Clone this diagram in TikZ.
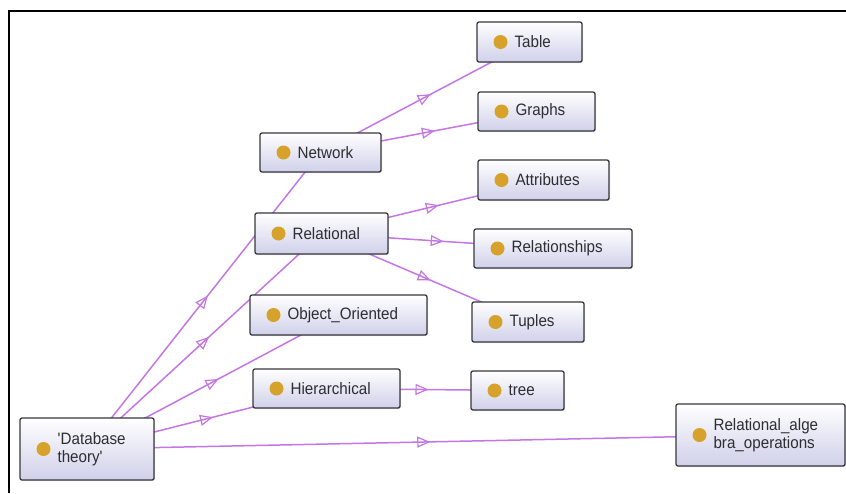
\documentclass[tikz,border=0pt]{standalone}
\usepackage{fontspec}
\setmainfont{Liberation Sans}[FakeStretch=0.92]
\usetikzlibrary{arrows.meta,decorations.markings,backgrounds,shadows}

\definecolor{edgecol}{RGB}{196,118,228}
\definecolor{boxline}{RGB}{55,55,60}
\definecolor{boxfill}{RGB}{208,208,234}
\definecolor{dotcol}{RGB}{214,162,44}
\definecolor{txtcol}{RGB}{45,45,50}

\begin{document}
\begin{tikzpicture}[x=1pt, y=-1pt,
    cls/.style={draw=boxline, line width=1.3pt, rounded corners=2pt,
        top color=white, bottom color=boxfill, minimum height=40pt,
        drop shadow={shadow xshift=1pt, shadow yshift=-1pt, opacity=0.25},
        path picture={\fill[dotcol] ([xshift=23.5pt]path picture bounding box.west) circle (7pt);}},
    txt/.style={label={[anchor=west, xshift=38pt, inner sep=0pt, align=left,
        font=\fontsize{16.5}{18}\selectfont, text=txtcol]west:#1}},
    link/.style={draw=edgecol, line width=1.5pt, postaction={decorate},
        decoration={markings, mark=at position 0.5 with
          {\arrow[edgecol, xshift=6.5pt]{Triangle[open, length=13pt, width=11pt, line width=1.2pt]}}}}
]
\useasboundingbox (0,0) rectangle (846,493);
\draw[line width=1.6pt] (9,493) -- (9,11) -- (846,11);

% classes
\node[cls, minimum width=134pt, minimum height=62pt, txt={\textquotesingle Database\\theory\textquotesingle}] (db) at (87,449) {};
\node[cls, minimum width=121pt, minimum height=39pt, txt=Network] (network) at (320.5,152.5) {};
\node[cls, minimum width=133pt, minimum height=41pt, txt=Relational] (relational) at (321.5,233.5) {};
\node[cls, minimum width=177pt, txt=Object\_Oriented] (objoriented) at (338.5,315) {};
\node[cls, minimum width=147pt, minimum height=39pt, txt=Hierarchical] (hierarchical) at (326.5,388.5) {};
\node[cls, minimum width=105pt, txt=Table] (table) at (529.5,42) {};
\node[cls, minimum width=117pt, minimum height=39pt, txt=Graphs] (graphs) at (536.5,111.5) {};
\node[cls, minimum width=131pt, txt=Attributes] (attributes) at (543.5,180) {};
\node[cls, minimum width=158pt, minimum height=39pt, txt=Relationships] (relationships) at (553,248.5) {};
\node[cls, minimum width=112pt, txt=Tuples] (tuples) at (528,322) {};
\node[cls, minimum width=93pt, minimum height=39pt, txt=tree] (tree) at (517.5,390.5) {};
\node[cls, minimum width=169pt, minimum height=62pt, txt={Relational\_alge\\bra\_operations}] (relalg) at (760.5,435) {};

% subclass links, centre to centre under the boxes
\begin{scope}[on background layer]
\draw[link] (db.center) -- (network.center);
\draw[link] (db.center) -- (relational.center);
\draw[link] (db.center) -- (objoriented.center);
\draw[link] (db.center) -- (hierarchical.center);
\draw[link] (db.center) -- (relalg.center);
\draw[link] (network.center) -- (table.center);
\draw[link] (network.center) -- (graphs.center);
\draw[link] (relational.center) -- (attributes.center);
\draw[link] (relational.center) -- (relationships.center);
\draw[link] (relational.center) -- (tuples.center);
\draw[link] (hierarchical.center) -- (tree.center);
\end{scope}
\end{tikzpicture}
\end{document}
